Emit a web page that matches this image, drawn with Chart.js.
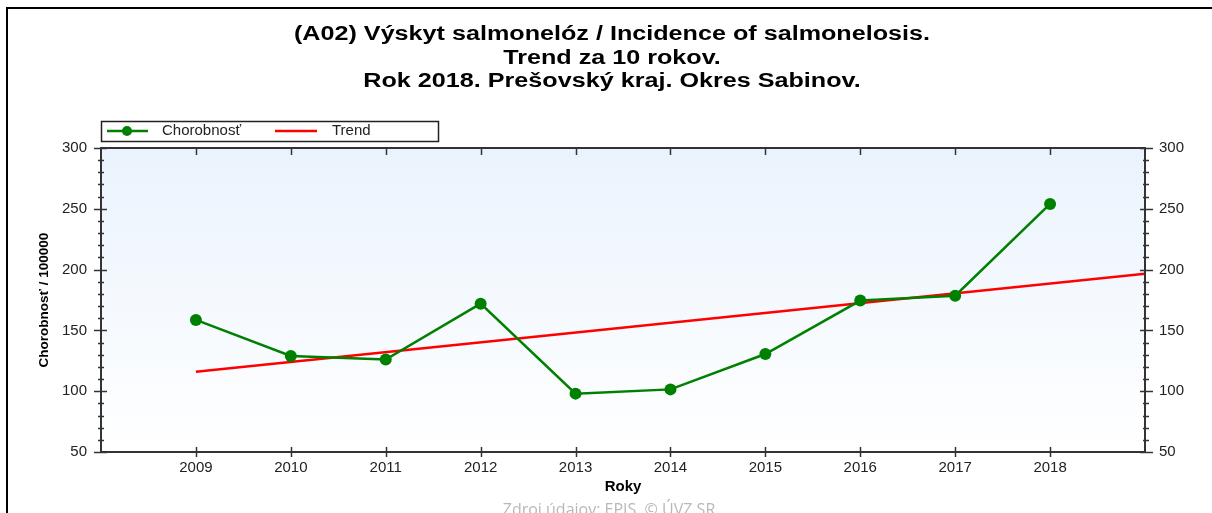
<!DOCTYPE html>
<html><head><meta charset="utf-8">
<script src="https://cdn.jsdelivr.net/npm/chart.js@4/dist/chart.umd.min.js"></script>
<style>html,body{margin:0;padding:0;background:#fff;overflow:hidden}#wrap{width:1212px;height:513px;position:relative}</style>
</head><body><div id="wrap"><canvas id="c" width="1212" height="513"></canvas></div>
<script>
// ---- data ----
const titleLines = ['(A02) Výskyt salmonelóz / Incidence of salmonelosis.', 'Trend za 10 rokov.', 'Rok 2018. Prešovský kraj. Okres Sabinov.'];
const years = [2009, 2010, 2011, 2012, 2013, 2014, 2015, 2016, 2017, 2018];
const incidence = [158.6, 129, 126, 172, 98, 101.5, 130.6, 174.5, 178.5, 254];
const trendYears = [2009, 2019];
const trendValues = [116.0, 196.5];
const yTickValues = [50, 100, 150, 200, 250, 300];
const seriesNames = ['Chorobnosť', 'Trend'];
const xAxisTitle = 'Roky';
const yAxisTitle = 'Chorobnosť / 100000';
const sourceText = 'Zdroj údajov: EPIS, © ÚVZ SR';

const FONT = "'Liberation Sans', Arial, sans-serif";
const GREEN = '#008000', RED = '#ff0000', INK = '#222';

const bgPlugin = {
  id: 'bg',
  beforeDraw(chart) {
    const {ctx, chartArea: a} = chart;
    ctx.save();
    const g = ctx.createLinearGradient(0, a.top, 0, a.bottom);
    g.addColorStop(0, '#eaf3fd');
    g.addColorStop(1, '#ffffff');
    ctx.fillStyle = g;
    ctx.fillRect(a.left, a.top, a.right - a.left, a.bottom - a.top);
    ctx.restore();
  }
};

function seg(ctx, x1, y1, x2, y2) { ctx.beginPath(); ctx.moveTo(x1, y1); ctx.lineTo(x2, y2); ctx.stroke(); }

const decoPlugin = {
  id: 'deco',
  afterDraw(chart) {
    const {ctx, chartArea: a, scales} = chart;
    ctx.save();
    // outer frame
    ctx.strokeStyle = '#000'; ctx.lineWidth = 2;
    ctx.strokeRect(7, 8, 1230, 530);
    // plot frame
    ctx.strokeStyle = '#333'; ctx.lineWidth = 2;
    ctx.strokeRect(a.left, a.top, a.right - a.left, a.bottom - a.top);
    // y ticks (major every 50, minor every 10)
    ctx.lineWidth = 1.5;
    const ys = scales.y;
    for (let v = ys.min; v <= ys.max; v += 10) {
      const p = Math.round(ys.getPixelForValue(v)) + 0.5;
      const major = yTickValues.includes(v);
      seg(ctx, a.left - (major ? 7 : 3), p, a.left + (major ? 6 : 3), p);
      seg(ctx, a.right - (major ? 5 : 2), p, a.right + (major ? 8 : 4), p);
    }
    // x ticks
    const xs = scales.x;
    years.forEach(yr => {
      const p = Math.round(xs.getPixelForValue(yr)) + 0.5;
      seg(ctx, p, a.bottom - 5, p, a.bottom + 5);
      seg(ctx, p, a.top, p, a.top + 7);
    });
    // title
    ctx.fillStyle = '#000';
    ctx.font = 'bold 19.5px ' + FONT;
    ctx.textAlign = 'center';
    ctx.textBaseline = 'alphabetic';
    const baselines = [40, 63.5, 87];
    titleLines.forEach((t, i) => {
      ctx.save();
      ctx.translate(612, baselines[i]);
      ctx.scale(1.29, 1);
      ctx.fillText(t, 0, 0);
      ctx.restore();
    });
    // legend
    ctx.strokeStyle = '#222'; ctx.lineWidth = 1.5;
    ctx.strokeRect(101.5, 121.5, 337, 20);
    const ly = 131;
    ctx.lineWidth = 2.5;
    ctx.strokeStyle = GREEN; seg(ctx, 107, ly, 148, ly);
    ctx.fillStyle = GREEN; ctx.beginPath(); ctx.arc(127, ly, 5, 0, Math.PI * 2); ctx.fill();
    ctx.strokeStyle = RED; seg(ctx, 275, ly, 317, ly);
    ctx.fillStyle = INK;
    ctx.font = '15px ' + FONT;
    ctx.textAlign = 'left'; ctx.textBaseline = 'middle';
    ctx.fillText(chart.data.datasets[0].label, 162, ly);
    ctx.fillText(chart.data.datasets[1].label, 332, ly);
    // source
    ctx.fillStyle = '#b8b8b8';
    ctx.font = "16px 'Open Sans', " + FONT;
    ctx.textAlign = 'center'; ctx.textBaseline = 'alphabetic';
    ctx.fillText(sourceText, 609, 515);
    ctx.restore();
  }
};

const tickFont = {family: FONT, size: 15};

new Chart(document.getElementById('c'), {
  type: 'line',
  data: {
    datasets: [
      {
        label: seriesNames[0],
        data: years.map((y, i) => ({x: y, y: incidence[i]})),
        borderColor: GREEN, backgroundColor: GREEN, borderWidth: 2.5,
        pointRadius: 6, pointHoverRadius: 6, pointBorderWidth: 0,
        pointBackgroundColor: GREEN, tension: 0, yAxisID: 'y', order: 1
      },
      {
        label: seriesNames[1],
        data: trendYears.map((y, i) => ({x: y, y: trendValues[i]})),
        borderColor: RED, backgroundColor: RED, borderWidth: 2.5,
        pointRadius: 0, tension: 0, yAxisID: 'y', order: 2
      }
    ]
  },
  options: {
    responsive: false, animation: false, devicePixelRatio: 1,
    layout: {padding: {left: 0, right: 0, top: 148, bottom: 0}},
    plugins: {legend: {display: false}, title: {display: false}, tooltip: {enabled: false}},
    scales: {
      x: {
        type: 'linear', min: 2008, max: 2019,
        grid: {display: false, drawTicks: false}, border: {display: false},
        ticks: {stepSize: 1, autoSkip: false, maxRotation: 0, padding: 7, color: INK, font: tickFont,
          callback: v => years.includes(v) ? String(v) : ''},
        title: {display: true, text: xAxisTitle, color: '#000', font: {family: FONT, size: 15, weight: 'bold'}, padding: {top: 0, bottom: 17}},
        afterFit: s => { s.height = 61; }
      },
      y: {
        position: 'left', min: 50, max: 300,
        grid: {display: false, drawTicks: false}, border: {display: false},
        ticks: {stepSize: 50, padding: 14, color: INK, font: tickFont, callback: v => String(v)},
        title: {display: true, text: yAxisTitle, color: '#000', font: {family: FONT, size: 13.5, weight: 'bold'}, padding: {top: 36, bottom: 0}},
        afterFit: s => { s.width = 101; }
      },
      y2: {
        position: 'right', min: 50, max: 300,
        grid: {display: false, drawTicks: false}, border: {display: false},
        ticks: {stepSize: 50, padding: 14, color: INK, font: tickFont, callback: v => String(v)},
        afterFit: s => { s.width = 67; }
      }
    }
  },
  plugins: [bgPlugin, decoPlugin]
});
</script></body></html>
